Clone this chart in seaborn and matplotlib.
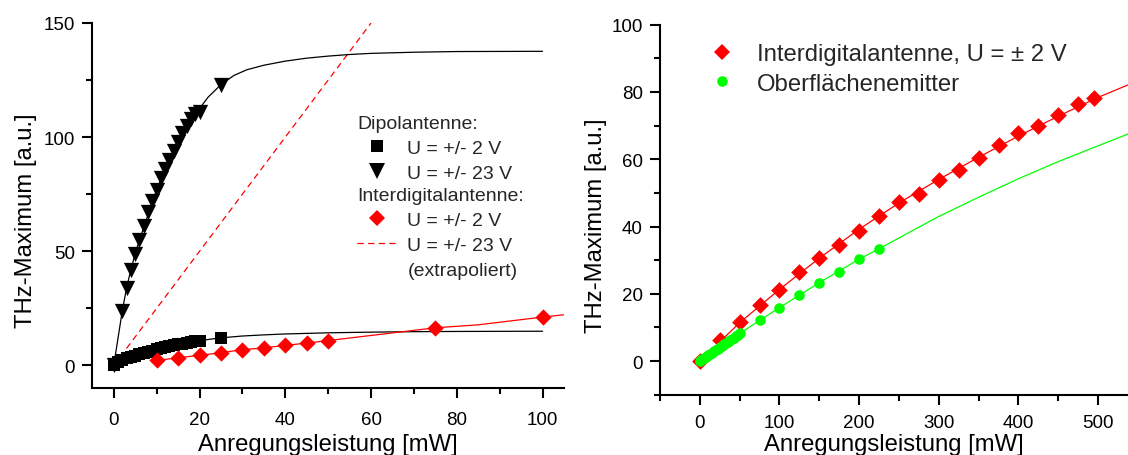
import matplotlib
matplotlib.use("Agg")
import matplotlib.pyplot as plt
import seaborn as sns
from matplotlib.lines import Line2D
from matplotlib.ticker import MultipleLocator

# ---------------- data: left panel ----------------
dip2_x = [0, 1, 2, 3, 4, 5, 6, 7, 8, 9, 10, 11, 12, 13, 14, 15, 16, 17, 18, 19, 20, 25]
dip2_y = [0, 1.5, 2.4, 3.1, 3.7, 4.3, 4.9, 5.4, 6.0, 6.5, 7.1, 7.5, 8.0, 8.4, 8.8, 9.2,
          9.6, 9.9, 10.2, 10.6, 10.9, 12.1]
dip2_fit_x = [0, 1, 2, 3, 4, 5, 6, 8, 10, 12, 14, 16, 18, 20, 25, 30, 35, 40, 50, 60, 70, 80, 100]
dip2_fit_y = [0, 1.5, 2.4, 3.1, 3.7, 4.3, 4.9, 6.0, 7.1, 8.0, 8.8, 9.6, 10.2, 10.9, 12.1,
              12.9, 13.4, 13.8, 14.3, 14.6, 14.8, 14.9, 15.0]

dip23_x = [0, 2, 3, 4, 5, 6, 7, 8, 9, 10, 11, 12, 13, 14, 15, 16, 17, 18, 19, 20, 25]
dip23_y = [0, 24, 34, 42, 49, 55, 61, 67, 72, 77, 82, 86, 90, 94, 98, 102, 105, 108, 110, 111, 123]
dip23_fit_x = [0, 2, 3, 4, 5, 6, 8, 10, 12, 14, 16, 18, 20, 22, 25, 28, 31, 35, 40, 45, 50,
               55, 60, 70, 80, 100]
dip23_fit_y = [0, 24, 34, 42, 49, 55, 66, 77, 86, 94, 102, 108, 112.5, 117.5, 123, 127, 129.5,
               131.5, 133.3, 134.6, 135.5, 136.2, 136.7, 137.2, 137.5, 137.6]

idg2_x = [10, 15, 20, 25, 30, 35, 40, 45, 50, 75, 100]
idg2_y = [2.2, 3.4, 4.4, 5.6, 6.9, 7.7, 8.8, 9.8, 10.9, 16.5, 21.2]
idg2_line_x = [10, 15, 20, 25, 30, 35, 40, 45, 50, 75, 85, 100, 105]
idg2_line_y = [2.2, 3.4, 4.4, 5.6, 6.9, 7.7, 8.8, 9.8, 10.9, 16.5, 17.8, 21.2, 22.2]

idg23_extra_x = [0, 60]
idg23_extra_y = [0, 150]

# ---------------- data: right panel ----------------
ida_x = [0, 25, 50, 75, 100, 125, 150, 175, 200, 225, 250, 275, 300, 325, 350, 375, 400,
         425, 450, 475, 495]
ida_y = [0, 6.3, 11.6, 16.6, 21.1, 26.5, 30.5, 34.4, 38.7, 43.2, 47.3, 49.8, 53.9, 56.8,
         60.5, 64.2, 67.7, 69.8, 73.1, 76.4, 78.1]
ida_fit_x = [0, 50, 100, 150, 200, 250, 300, 350, 400, 450, 500, 537.5]
ida_fit_y = [0, 11.4, 21.3, 30.6, 39.2, 47.0, 54.0, 60.6, 66.9, 72.8, 78.4, 82.1]

ofe_x = [0, 2.5, 5, 7.5, 10, 12.5, 15, 17.5, 20, 22.5, 25, 27.5, 30, 32.5, 35, 37.5, 40,
         42.5, 45, 47.5, 50, 75, 100, 125, 150, 175, 200, 225]
ofe_y = [0, 0.5, 0.9, 1.3, 1.7, 2.1, 2.5, 2.9, 3.3, 3.7, 4.1, 4.5, 5.0, 5.4, 5.8, 6.2, 6.6,
         7.0, 7.4, 7.8, 8.2, 12.1, 15.9, 19.6, 23.3, 26.6, 30.3, 33.4]
ofe_fit_x = [0, 50, 100, 150, 200, 225, 250, 300, 350, 400, 450, 500, 537.5]
ofe_fit_y = [0, 8.2, 15.9, 23.3, 30.3, 33.4, 36.6, 43.0, 48.7, 54.2, 59.3, 64.0, 67.5]

left_legend_labels = ["U = +/- 2 V", "U = +/- 23 V", "U = +/- 2 V", "U = +/- 23 V", "(extrapoliert)"]
right_legend_labels = ["Interdigitalantenne, U = \u00b1 2 V", "Oberfl\u00e4chenemitter"]

RED = "#ff0000"
GREEN = "#00ff00"

sns.set_theme(style="ticks")
plt.rcParams["font.family"] = ["Liberation Sans", "DejaVu Sans"]
plt.rcParams["axes.linewidth"] = 1.5

fig = plt.figure(figsize=(11.28, 4.56), dpi=100)
ax1 = fig.add_axes([92.3 / 1128, 66.7 / 456, (564 - 92.3) / 1128, (389.3 - 24) / 456])
ax2 = fig.add_axes([660 / 1128, 60.3 / 456, (1128 - 660) / 1128, (395.7 - 25.7) / 456])

LW = 0.9
DASH = (0, (5, 3.5))
kw_line = dict(sort=False, estimator=None, linewidth=LW, legend=False)

# ---- left ----
sns.lineplot(x=idg23_extra_x, y=idg23_extra_y, ax=ax1, color=RED, **kw_line)
ax1.lines[-1].set_linestyle(DASH)
sns.lineplot(x=dip23_fit_x, y=dip23_fit_y, ax=ax1, color="black", **kw_line)
sns.lineplot(x=dip2_fit_x, y=dip2_fit_y, ax=ax1, color="black", **kw_line)
sns.lineplot(x=idg2_line_x, y=idg2_line_y, ax=ax1, color=RED, **kw_line)
sns.scatterplot(x=dip2_x, y=dip2_y, ax=ax1, marker="s", s=8.8 ** 2, color="black", linewidth=0, legend=False, zorder=3)
sns.scatterplot(x=dip23_x, y=dip23_y, ax=ax1, marker="v", s=11 ** 2, color="black", linewidth=0, legend=False, zorder=3)
sns.scatterplot(x=idg2_x, y=idg2_y, ax=ax1, marker="D", s=8.3 ** 2, color=RED, linewidth=0, legend=False, zorder=4)

ax1.set_xlim(-5, 105)
ax1.set_ylim(-10, 150)
ax1.xaxis.set_major_locator(MultipleLocator(20))
ax1.xaxis.set_minor_locator(MultipleLocator(10))
ax1.yaxis.set_major_locator(MultipleLocator(50))
ax1.yaxis.set_minor_locator(MultipleLocator(25))

# ---- right ----
sns.lineplot(x=ida_fit_x, y=ida_fit_y, ax=ax2, color=RED, **kw_line)
sns.lineplot(x=ofe_fit_x, y=ofe_fit_y, ax=ax2, color=GREEN, **kw_line)
sns.scatterplot(x=ida_x, y=ida_y, ax=ax2, marker="D", s=8.5 ** 2, color=RED, linewidth=0, legend=False, zorder=3)
sns.scatterplot(x=ofe_x, y=ofe_y, ax=ax2, marker="o", s=7.6 ** 2, color=GREEN, linewidth=0, legend=False, zorder=4)

ax2.set_xlim(-50, 537.5)
ax2.set_ylim(-10, 100)
ax2.xaxis.set_major_locator(MultipleLocator(100))
ax2.xaxis.set_minor_locator(MultipleLocator(50))
ax2.yaxis.set_major_locator(MultipleLocator(20))
ax2.yaxis.set_minor_locator(MultipleLocator(10))

for ax, xpad, lpad in ((ax1, 9, 3.6), (ax2, 7, 1.5)):
    sns.despine(ax=ax)
    ax.set_facecolor("white")
    for sp in ("left", "bottom"):
        ax.spines[sp].set_linewidth(1.5)
        ax.spines[sp].set_color("black")
    ax.tick_params(which="major", direction="out", length=7, width=1.5, labelsize=13.5,
                   color="black", labelcolor="black")
    ax.tick_params(which="minor", direction="out", length=4, width=1.5, color="black")
    ax.tick_params(axis="x", which="both", pad=xpad, bottom=True)
    ax.tick_params(axis="y", which="both", pad=5.5, left=True)
    ax.set_xlabel("Anregungsleistung [mW]", fontsize=17.2, labelpad=lpad, color="black")
    ax.set_ylabel("THz-Maximum [a.u.]", fontsize=17.2, color="black")

ax1.yaxis.set_label_coords(-0.117, 0.461)
ax2.yaxis.set_label_coords(-0.113, 0.459)

# ---- legends left ----
h_sq = Line2D([], [], color="black", marker="s", linestyle="none", markersize=8.8, markeredgewidth=0)
h_tri = Line2D([], [], color="black", marker="v", linestyle="none", markersize=11.5, markeredgewidth=0)
h_dia = Line2D([], [], color=RED, marker="D", linestyle="none", markersize=8.4, markeredgewidth=0)
h_dash = Line2D([], [], color=RED, linestyle=DASH, linewidth=LW)
h_none = Line2D([], [], linestyle="none", marker=None)

common = dict(loc="upper left", frameon=False, fontsize=14, title_fontsize=14,
              alignment="left", handlelength=2.03, handletextpad=0.55,
              labelspacing=0.38, borderpad=0.38, borderaxespad=0, numpoints=1)
leg1 = ax1.legend([h_sq, h_tri], left_legend_labels[:2], title="Dipolantenne:",
                  bbox_to_anchor=(0.546, 0.7676), **common)
ax1.add_artist(leg1)
leg2 = ax1.legend([h_dia, h_dash, h_none], left_legend_labels[2:], title="Interdigitalantenne:",
                  bbox_to_anchor=(0.546, 0.5713), **common)

# ---- legend right ----
r_dia = Line2D([], [], color=RED, marker="D", linestyle="none", markersize=8.5, markeredgewidth=0)
r_dot = Line2D([], [], color=GREEN, marker="o", linestyle="none", markersize=7.6, markeredgewidth=0)
ax2.legend([r_dia, r_dot], right_legend_labels, loc="upper left", bbox_to_anchor=(0.0927, 0.95),
           frameon=False, fontsize=17.2, handlelength=1.53, handletextpad=0.7,
           labelspacing=0.31, borderpad=0, borderaxespad=0, numpoints=1)

fig.savefig("out.png", dpi=100, facecolor="white")
